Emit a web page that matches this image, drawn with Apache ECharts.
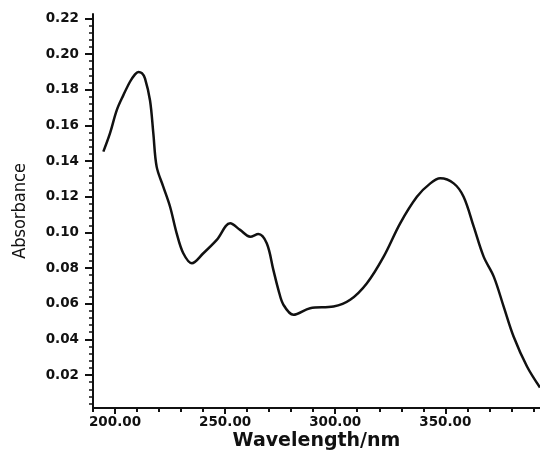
<!DOCTYPE html>
<html>
<head>
<meta charset="utf-8">
<script src="https://cdn.jsdelivr.net/npm/echarts@6/dist/echarts.min.js"></script>
<style>html,body{margin:0;padding:0;background:#fff;}#c{width:540px;height:450px;}</style>
</head>
<body>
<div id="c"></div>
<script>
const wavelength = [194.7,197.7,200.8,203.8,206.8,209.0,210.6,212.2,213.6,215.9,217.4,218.9,221.9,225.0,228.0,231.0,234.9,240.1,246.2,252.3,256.8,261.4,265.1,268.9,271.9,274.2,276.5,281.0,288.6,299.2,306.8,314.4,322.0,329.5,337.1,343.2,347.7,353.8,358.3,362.9,367.4,372.0,376.5,381.0,387.1,393.0];
const absorbance = [0.1453,0.1555,0.1686,0.1770,0.1845,0.1885,0.1900,0.1893,0.1864,0.1740,0.1555,0.1369,0.1257,0.1144,0.0995,0.0883,0.0827,0.0883,0.0958,0.1051,0.1014,0.0976,0.0991,0.0939,0.0790,0.0678,0.0594,0.0538,0.0575,0.0584,0.0622,0.0715,0.0864,0.1051,0.1200,0.1275,0.1303,0.1275,0.1200,0.1032,0.0864,0.0752,0.0584,0.0416,0.0248,0.0130];
const xMajorTicks = [200,250,300,350];
const xMinorTicks = [190,200,210,220,230,240,250,260,270,280,290,300,310,320,330,340,350,360,370,380,390];
const yMajorTicks = [0.02,0.04,0.06,0.08,0.10,0.12,0.14,0.16,0.18,0.20,0.22];
const yMinorTicks = [0.004,0.008,0.012,0.016,0.024,0.028,0.032,0.036,0.044,0.048,0.052,0.056,0.064,0.068,0.072,0.076,0.084,0.088,0.092,0.096,0.104,0.108,0.112,0.116,0.124,0.128,0.132,0.136,0.144,0.148,0.152,0.156,0.164,0.168,0.172,0.176,0.184,0.188,0.192,0.196,0.204,0.208,0.212,0.216];

const pts = wavelength.map((w,i)=>[w, absorbance[i]]);
const X_MIN = 190, X_MAX = 393, Y_MIN = 0.0015, Y_MAX = 0.2225;
const labelFont = {fontFamily:'DejaVu Sans', fontWeight:'bold', fontSize:13.5, color:'#111'};

const chart = echarts.init(document.getElementById('c'), null, {renderer:'canvas'});
chart.setOption({
  backgroundColor:'#fff',
  animation:false,
  grid:{left:93, top:14, right:0, bottom:42, containLabel:false, outerBoundsMode:'none'},
  xAxis:[{
    type:'value', min:X_MIN, max:X_MAX,
    name:'Wavelength/nm', nameLocation:'middle', nameGap:24, nameMoveOverlap:false,
    nameTextStyle:{fontFamily:'DejaVu Sans', fontWeight:'bold', fontSize:19, color:'#111'},
    axisLine:{show:true, onZero:false, lineStyle:{color:'#111', width:2}},
    axisTick:{show:true, customValues:xMajorTicks, length:6, lineStyle:{color:'#111', width:2}},
    axisLabel:Object.assign({customValues:xMajorTicks, margin:7, formatter:v=>Number(v).toFixed(2)}, labelFont),
    splitLine:{show:false}
  },{
    type:'value', min:X_MIN, max:X_MAX, position:'bottom',
    axisLine:{show:false},
    axisTick:{show:true, customValues:xMinorTicks, length:4, lineStyle:{color:'#111', width:2}},
    axisLabel:{show:false}, splitLine:{show:false}
  }],
  yAxis:[{
    type:'value', min:Y_MIN, max:Y_MAX,
    name:'Absorbance', nameLocation:'middle', nameGap:64,
    nameTextStyle:{fontFamily:"'Liberation Sans Narrow', 'DejaVu Sans Condensed', sans-serif", fontSize:18, color:'#111'},
    axisLine:{show:true, onZero:false, lineStyle:{color:'#111', width:2}},
    axisTick:{show:true, customValues:yMajorTicks, length:8, lineStyle:{color:'#111', width:2}},
    axisLabel:Object.assign({customValues:yMajorTicks, margin:14, formatter:v=>Number(v).toFixed(2)}, labelFont),
    splitLine:{show:false}
  },{
    type:'value', min:Y_MIN, max:Y_MAX, position:'left', offset:0,
    axisLine:{show:false},
    axisTick:{show:true, customValues:yMinorTicks, length:4, lineStyle:{color:'#111', width:1.5}},
    axisLabel:{show:false}, splitLine:{show:false}
  }],
  series:[{
    type:'line', xAxisIndex:0, yAxisIndex:0, data:pts,
    smooth:0.35, showSymbol:false, symbol:'none',
    lineStyle:{color:'#111', width:2.5}
  }]
});
</script>
</body>
</html>
